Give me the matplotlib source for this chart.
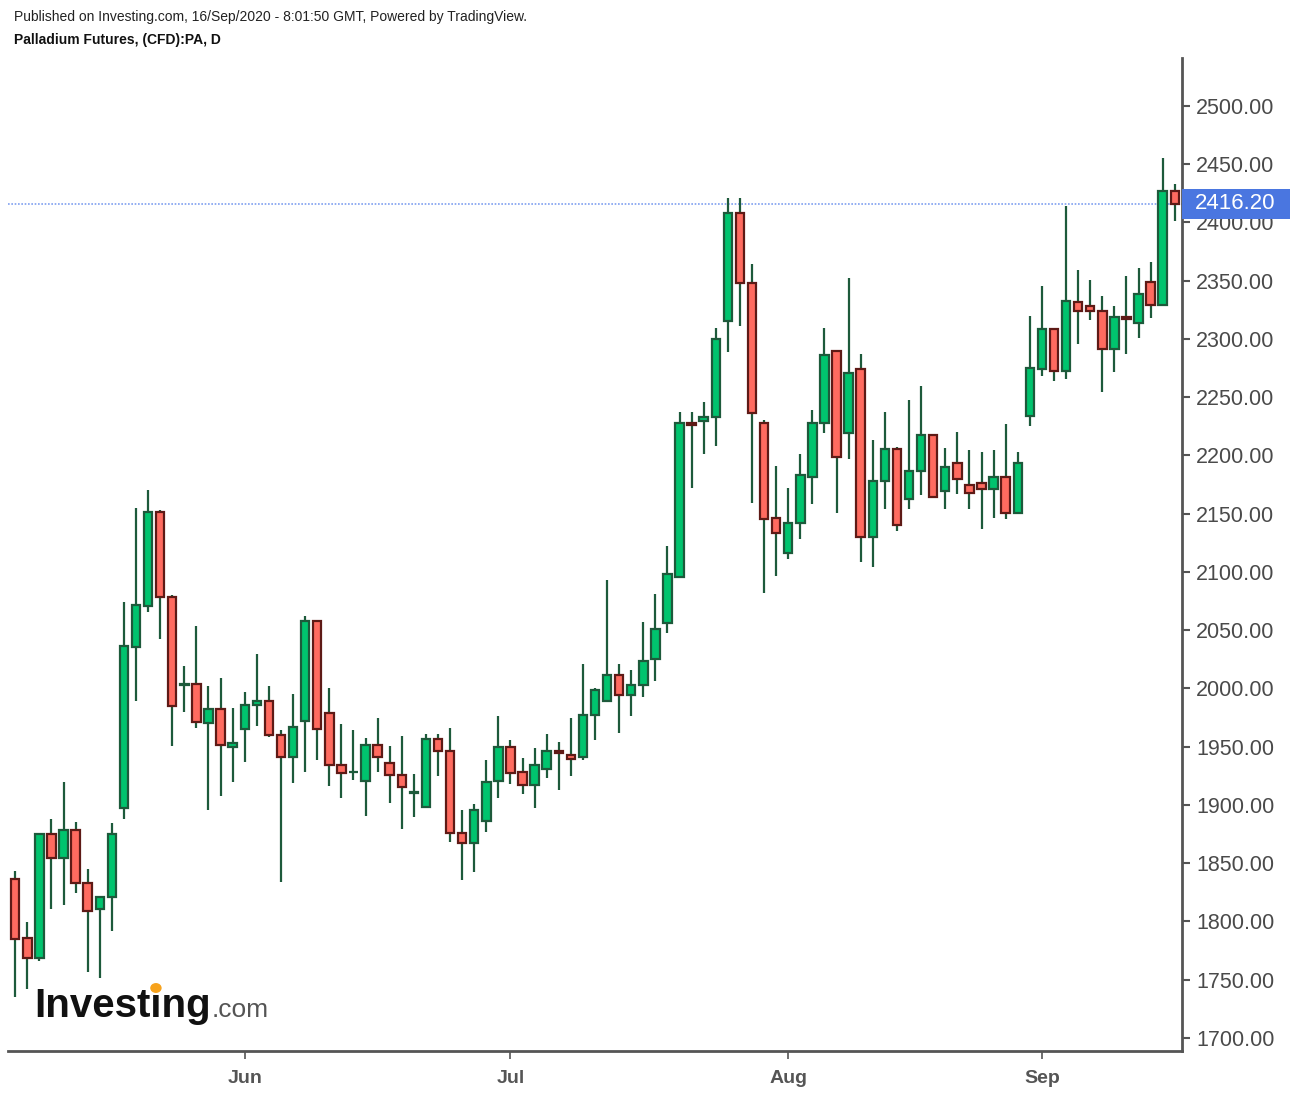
import numpy as np
import pandas as pd
import matplotlib
matplotlib.use('Agg')
from matplotlib import pyplot as plt
from matplotlib import transforms
from matplotlib.patches import Rectangle

matplotlib.rcParams['font.family'] = ['Liberation Sans', 'DejaVu Sans']

# daily candles, 05/May/2020 - 16/Sep/2020
dates = pd.bdate_range('2020-05-05', '2020-09-16')

opens = [1836.5, 1785.6, 1768.4, 1875.4, 1854.8, 1878.8, 1833.0, 1810.7, 1821.3, 1897.2,
         2035.9, 2071.1, 2151.2, 2078.5, 2003.0, 2004.1, 1970.1, 1982.7, 1949.5, 1965.0,
         1985.6, 1989.5, 1960.4, 1941.0, 1971.8, 2058.2, 1979.2, 1934.6, 1928.0, 1920.3,
         1951.8, 1936.3, 1926.0, 1910.4, 1898.3, 1956.7, 1946.6, 1876.2, 1867.1, 1886.3,
         1920.6, 1950.0, 1928.1, 1916.9, 1930.6, 1946.6, 1943.2, 1941.0, 1977.0, 1989.0,
         2011.9, 1994.4, 2002.7, 2025.6, 2056.2, 2095.5, 2228.2, 2229.6, 2232.8, 2315.2,
         2408.4, 2348.4, 2228.3, 2146.1, 2116.0, 2141.8, 2181.5, 2227.9, 2290.0, 2219.3,
         2274.5, 2130.3, 2178.1, 2205.8, 2162.7, 2186.7, 2217.9, 2169.8, 2193.8, 2175.0,
         2176.7, 2171.0, 2181.8, 2150.4, 2234.2, 2274.0, 2308.8, 2272.5, 2331.5, 2328.0,
         2324.3, 2291.2, 2319.2, 2313.7, 2348.7, 2329.5, 2427.3]
highs = [1843.0, 1799.8, 1876.0, 1887.7, 1919.7, 1885.7, 1845.3, 1822.0, 1884.3, 2074.0,
         2155.2, 2170.4, 2153.0, 2080.3, 2019.6, 2053.6, 2002.1, 2008.8, 1983.3, 1997.0,
         2029.6, 2002.1, 1964.4, 1995.3, 2062.2, 2058.5, 2000.2, 1969.5, 1964.4, 1957.5,
         1974.7, 1950.6, 1959.2, 1926.6, 1961.0, 1961.0, 1966.1, 1895.7, 1900.6, 1938.6,
         1976.4, 1955.8, 1940.3, 1948.9, 1961.0, 1954.1, 1974.7, 2021.0, 2000.4, 2093.1,
         2021.0, 2015.9, 2057.1, 2081.1, 2122.3, 2237.3, 2237.3, 2246.0, 2309.4, 2421.0,
         2421.0, 2364.4, 2230.5, 2191.0, 2171.8, 2201.0, 2239.0, 2309.2, 2290.5, 2352.1,
         2286.9, 2213.0, 2237.1, 2207.5, 2247.6, 2259.7, 2218.0, 2206.2, 2219.9, 2204.5,
         2202.8, 2204.5, 2226.8, 2202.8, 2320.0, 2345.8, 2309.0, 2414.2, 2359.2, 2350.6,
         2336.9, 2328.3, 2354.0, 2361.0, 2366.1, 2455.1, 2433.3]
lows = [1735.0, 1742.0, 1766.0, 1810.5, 1813.9, 1824.2, 1756.4, 1751.2, 1791.8, 1888.0,
        1989.5, 2066.0, 2042.2, 1950.9, 1979.6, 1965.8, 1895.7, 1907.7, 1919.7, 1937.0,
        1967.8, 1958.1, 1834.2, 1918.6, 1928.3, 1938.6, 1916.3, 1906.3, 1921.5, 1890.6,
        1928.3, 1901.5, 1879.1, 1889.5, 1898.0, 1925.1, 1868.5, 1835.6, 1842.8, 1877.1,
        1906.3, 1918.3, 1909.7, 1897.7, 1923.4, 1913.1, 1925.1, 1938.6, 1955.8, 1989.0,
        1961.5, 1976.7, 1992.4, 2006.2, 2047.4, 2095.0, 2172.4, 2201.6, 2208.4, 2288.8,
        2311.4, 2159.0, 2081.7, 2096.8, 2110.9, 2128.0, 2158.6, 2219.0, 2150.4, 2196.7,
        2108.8, 2104.0, 2153.8, 2135.0, 2153.8, 2165.8, 2164.0, 2153.8, 2167.2, 2153.8,
        2136.7, 2146.6, 2145.2, 2150.0, 2225.6, 2268.5, 2264.0, 2265.4, 2296.0, 2316.6,
        2254.8, 2272.0, 2287.4, 2301.1, 2318.3, 2329.0, 2401.3]
closes = [1785.0, 1768.4, 1875.4, 1854.8, 1878.8, 1832.7, 1809.0, 1821.3, 1875.4, 2036.2,
          2071.7, 2151.2, 2078.3, 1985.0, 2003.5, 1971.5, 1982.7, 1951.2, 1953.5, 1986.1,
          1989.5, 1959.8, 1941.0, 1967.2, 2058.2, 1965.0, 1934.1, 1927.2, 1928.5, 1951.8,
          1941.0, 1925.5, 1915.2, 1910.8, 1956.7, 1946.1, 1875.7, 1867.1, 1895.4, 1919.5,
          1950.0, 1927.5, 1916.9, 1934.6, 1946.6, 1944.4, 1939.2, 1977.5, 1998.5, 2011.9,
          1994.4, 2003.3, 2023.9, 2051.3, 2098.0, 2228.2, 2226.0, 2233.3, 2300.3, 2408.4,
          2347.8, 2236.2, 2145.2, 2133.2, 2142.0, 2183.3, 2227.9, 2286.3, 2198.7, 2270.8,
          2130.3, 2178.4, 2205.8, 2140.3, 2187.0, 2217.9, 2164.4, 2190.4, 2179.8, 2167.6,
          2171.0, 2181.8, 2150.4, 2193.8, 2274.9, 2308.8, 2272.5, 2332.9, 2324.0, 2324.0,
          2291.2, 2319.2, 2316.9, 2338.4, 2329.5, 2427.3, 2416.2]
last_price = 2416.20

month_names = ['Jun', 'Jul', 'Aug', 'Sep']
y_ticks = np.arange(1700, 2501, 50)

up_fill, up_edge = '#00c46e', '#1d5a3b'
dn_fill, dn_edge = '#ff6b60', '#5e1a16'
wick_col = '#1d5a3b'
axis_col = '#555555'

fig = plt.figure(figsize=(12.9, 10.94), dpi=100)
ax = fig.add_axes([8 / 1290, 1 - 1051 / 1094, 1174 / 1290, 993 / 1094])

x = np.arange(len(dates))
o = np.array(opens)
c = np.array(closes)
up = c >= o

ax.vlines(x, lows, highs, color=wick_col, linewidth=1.6, zorder=2)
ax.bar(x[up], (c - o)[up], bottom=o[up], width=0.7, color=up_fill,
       edgecolor=up_edge, linewidth=1.6, zorder=3)
ax.bar(x[~up], (c - o)[~up], bottom=o[~up], width=0.7, color=dn_fill,
       edgecolor=dn_edge, linewidth=1.6, zorder=3)

# last price line + label
ax.axhline(last_price, color='#7f9ff0', linewidth=1.2, linestyle=(0, (1, 1)), zorder=1)
trans = transforms.blended_transform_factory(fig.transFigure, ax.transData)
box_h = 30 / 1.165
ax.add_patch(Rectangle((1182 / 1290, last_price - box_h / 2), 108 / 1290, box_h,
                       transform=trans, facecolor='#4a76e0', edgecolor='none',
                       clip_on=False, zorder=10))
ax.text(1195 / 1290, last_price, '%.2f' % last_price, transform=trans, color='white',
        fontsize=16, va='center', ha='left', zorder=11, clip_on=False)

ax.set_xlim(-0.6, 96.6)
ax.set_ylim(1688.8, 2541.2)

# month ticks on first trading day
month_pos = [int(np.argmax(dates.month == m)) for m in [6, 7, 8, 9]]
ax.set_xticks(month_pos)
ax.set_xticklabels(month_names)
ax.yaxis.tick_right()
ax.set_yticks(y_ticks)
ax.set_yticklabels(['%.2f' % v for v in y_ticks])

ax.tick_params(axis='y', length=6, width=1.5, color=axis_col, labelcolor='#4a4a4a',
               labelsize=15.5, pad=4)
ax.tick_params(axis='x', length=6, width=1.2, color=axis_col, labelcolor='#555555',
               labelsize=14, pad=8)
for lab in ax.get_xticklabels():
    lab.set_fontweight('bold')

for s in ['top', 'left']:
    ax.spines[s].set_visible(False)
for s in ['right', 'bottom']:
    ax.spines[s].set_color(axis_col)
    ax.spines[s].set_linewidth(2)

fig.text(14 / 1290, 1 - 17 / 1094,
         'Published on Investing.com, 16/Sep/2020 - 8:01:50 GMT, Powered by TradingView.',
         fontsize=10, color='#222222', va='center')
fig.text(14 / 1290, 1 - 40 / 1094, 'Palladium Futures, (CFD):PA, D',
         fontsize=10, fontweight='bold', color='#111111', va='center')

# logo, orange dot sits on the last "i"
logo_y = 1 - 1017 / 1094
t1 = fig.text(34 / 1290, logo_y, 'Investing', fontsize=29, fontweight='bold',
              color='#111111', va='baseline', zorder=20)
fig.canvas.draw()
r = fig.canvas.get_renderer()
full = t1.get_window_extent(r)
probe = fig.text(34 / 1290, logo_y, 'Invest', fontsize=29, fontweight='bold', va='baseline')
w_invest = probe.get_window_extent(r).width
probe.remove()
probe = fig.text(34 / 1290, logo_y, 'Investi', fontsize=29, fontweight='bold', va='baseline')
w_investi = probe.get_window_extent(r).width
probe.remove()
dot_x = (full.x0 + (w_invest + w_investi) / 2) / 1290
fig.text(full.x1 / 1290 + 1 / 1290, logo_y, '.com', fontsize=19, color='#555555',
         va='baseline', zorder=20)
fig.patches.append(plt.Circle((dot_x, 1 - 988 / 1094), 5 / 1290,
                              transform=fig.transFigure, color='#f7a21b', zorder=21))

plt.savefig('out.png', dpi=100)
